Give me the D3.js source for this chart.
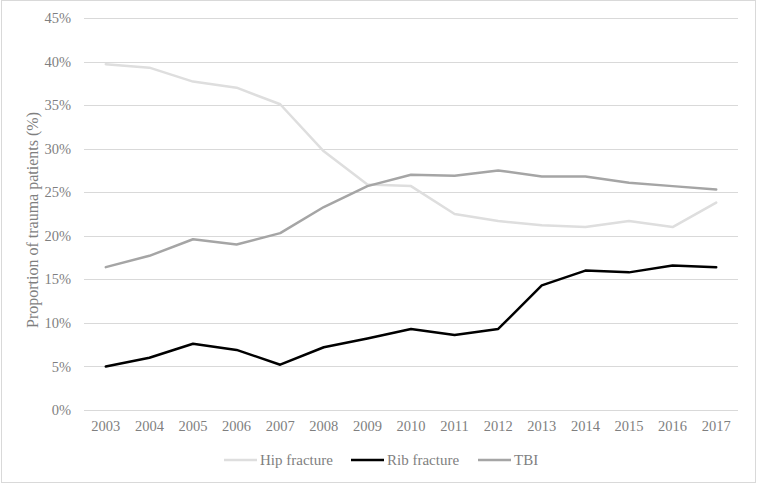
<!DOCTYPE html>
<html>
<head>
<meta charset="utf-8">
<script src="https://cdn.jsdelivr.net/npm/d3@7"></script>
<style>
  body { margin: 0; background: #fff; }
  text { font-family: "Liberation Serif", "Times New Roman", serif; }
</style>
</head>
<body>
<div id="chart"></div>
<script>
const years = ["2003", "2004", "2005", "2006", "2007", "2008", "2009", "2010",
  "2011", "2012", "2013", "2014", "2015", "2016", "2017"];
const hipFracture = [39.7, 39.3, 37.7, 37.0, 35.1, 29.7, 25.9, 25.7, 22.5, 21.7, 21.2, 21.0, 21.7, 21.0, 23.8];
const ribFracture = [5.0, 6.0, 7.6, 6.9, 5.2, 7.2, 8.2, 9.3, 8.6, 9.3, 14.3, 16.0, 15.8, 16.6, 16.4];
const tbi = [16.4, 17.7, 19.6, 19.0, 20.3, 23.3, 25.7, 27.0, 26.9, 27.5, 26.8, 26.8, 26.1, 25.7, 25.3];
const yTicks = [0, 5, 10, 15, 20, 25, 30, 35, 40, 45];

const series = [
  { name: "Hip fracture", values: hipFracture, color: "#dedede" },
  { name: "Rib fracture", values: ribFracture, color: "#000000" },
  { name: "TBI", values: tbi, color: "#a5a5a5" }
];

const width = 757, height = 484;
const margin = { top: 18, right: 19, bottom: 74, left: 84 };
const plotW = width - margin.left - margin.right;
const plotH = height - margin.top - margin.bottom;
const textColor = "#7f7f7f";

const svg = d3.select("#chart").append("svg")
  .attr("width", width)
  .attr("height", height);

// chart border
svg.append("rect")
  .attr("x", 1.5).attr("y", 0.5)
  .attr("width", width - 3).attr("height", height - 2)
  .attr("fill", "#fff")
  .attr("stroke", "#d9d9d9");

const g = svg.append("g")
  .attr("transform", `translate(${margin.left},${margin.top})`);

const x = d3.scaleBand().domain(years).range([0, plotW]);
const y = d3.scaleLinear().domain([0, 45]).range([plotH, 0]);

// gridlines
g.selectAll(".grid")
  .data(yTicks)
  .enter()
  .append("line")
  .attr("class", "grid")
  .attr("x1", 0).attr("x2", plotW)
  .attr("y1", d => Math.round(y(d)) + 0.5)
  .attr("y2", d => Math.round(y(d)) + 0.5)
  .attr("stroke", "#d9d9d9")
  .attr("stroke-width", 1);

// y axis labels
const yAxis = d3.axisLeft(y).tickValues(yTicks).tickFormat(d => d + "%").tickSize(0).tickPadding(13);
const yG = g.append("g").call(yAxis);
yG.select(".domain").remove();
yG.selectAll("text")
  .attr("fill", textColor)
  .style("font-size", "14.5px")
  .style("font-family", "Liberation Serif, serif");

// x axis labels
const xAxis = d3.axisBottom(x).tickSize(0).tickPadding(11);
const xG = g.append("g").attr("transform", `translate(0,${plotH})`).call(xAxis);
xG.select(".domain").remove();
xG.selectAll("text")
  .attr("fill", textColor)
  .style("font-size", "14.5px")
  .style("font-family", "Liberation Serif, serif");

// y axis title
svg.append("text")
  .attr("transform", "translate(38,220) rotate(-90)")
  .attr("text-anchor", "middle")
  .attr("fill", textColor)
  .style("font-size", "16px")
  .text("Proportion of trauma patients (%)");

// lines
const line = d3.line()
  .x((d, i) => x(years[i]) + x.bandwidth() / 2)
  .y(d => y(d));

g.selectAll(".series")
  .data(series)
  .enter()
  .append("path")
  .attr("class", "series")
  .attr("fill", "none")
  .attr("stroke", d => d.color)
  .attr("stroke-width", 2.5)
  .attr("stroke-linejoin", "round")
  .attr("stroke-linecap", "round")
  .attr("d", d => line(d.values));

// legend
const legendX = [224, 351, 478];
const legend = svg.append("g").attr("transform", "translate(0,460)");
series.forEach((s, i) => {
  const lx = legendX[i];
  legend.append("line")
    .attr("x1", lx).attr("x2", lx + 33)
    .attr("y1", 0).attr("y2", 0)
    .attr("stroke", s.color)
    .attr("stroke-width", 2.5);
  legend.append("text")
    .attr("x", lx + 36)
    .attr("y", 0)
    .attr("dy", "0.35em")
    .attr("fill", textColor)
    .style("font-size", "15px")
    .text(s.name);
});
</script>
</body>
</html>
